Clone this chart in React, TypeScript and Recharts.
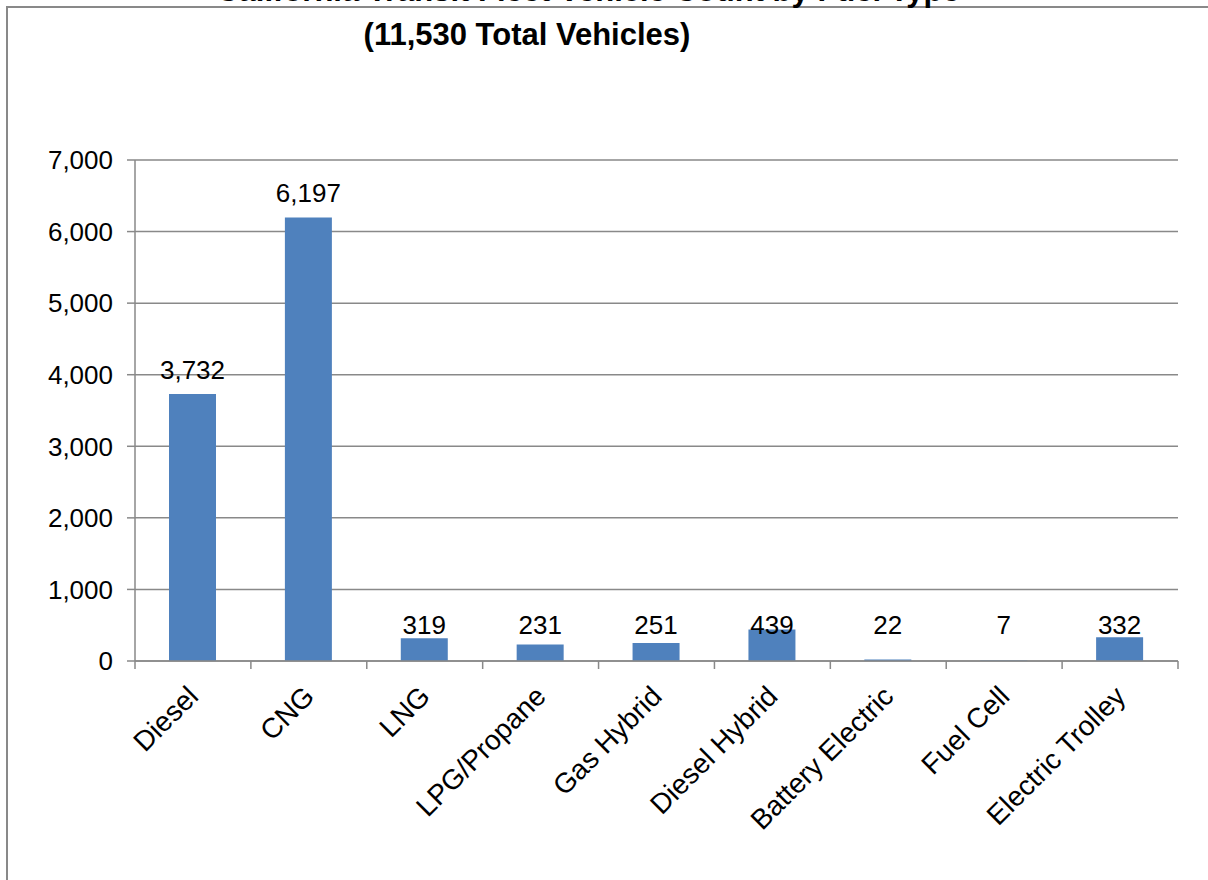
import React from "react";
import { BarChart, Bar, XAxis, YAxis, CartesianGrid, LabelList } from "recharts";

const fuelTypes = [
  "Diesel",
  "CNG",
  "LNG",
  "LPG/Propane",
  "Gas Hybrid",
  "Diesel Hybrid",
  "Battery Electric",
  "Fuel Cell",
  "Electric Trolley",
];
const vehicleCounts = [3732, 6197, 319, 231, 251, 439, 22, 7, 332];
const yTicks = [0, 1000, 2000, 3000, 4000, 5000, 6000, 7000];

const titleLine1 = "California Transit Fleet Vehicle Count by Fuel Type";
const titleLine2 = "(11,530 Total Vehicles)";

const data = fuelTypes.map((fuel, i) => ({ fuel, count: vehicleCounts[i] }));

const W = 1208;
const H = 880;
const FONT = "'Liberation Sans', Arial, sans-serif";
const GRAY = "#898989";
const BAR = "#4f81bd";

const fmt = (v: number) => v.toLocaleString("en-US");

const PLOT_LEFT = 135;
const PLOT_RIGHT = 1178;
const PLOT_TOP = 160;
const PLOT_BOTTOM = 661;
const X_AXIS_H = 180;
const BAND = (PLOT_RIGHT - PLOT_LEFT) / fuelTypes.length;

// category label rotated 45deg, plus tick marks on the category boundaries
function FuelTick(props: any) {
  const { x, y, payload, index } = props;
  const half = payload && payload.offset ? payload.offset : BAND / 2;
  const last = index === fuelTypes.length - 1;
  return (
    <g>
      <line x1={x - half} x2={x - half} y1={y} y2={y + 8} stroke={GRAY} strokeWidth={1.5} />
      {last && <line x1={x + half} x2={x + half} y1={y} y2={y + 8} stroke={GRAY} strokeWidth={1.5} />}
      <text
        x={0}
        y={0}
        transform={`translate(${x + 7},${y + 37}) rotate(-45)`}
        textAnchor="end"
        fontSize={28}
        fontFamily={FONT}
        fill="#000"
      >
        {payload.value}
      </text>
    </g>
  );
}

// value labels sit above tall bars; short bars share one row just above the axis
function CountLabel(props: any) {
  const { x, y, width, value } = props;
  const above = y - 15;
  const baseline = above < PLOT_BOTTOM - 60 ? above : PLOT_BOTTOM - 27;
  return (
    <text x={x + width / 2} y={baseline} textAnchor="middle" fontSize={26} fontFamily={FONT} fill="#000">
      {fmt(value)}
    </text>
  );
}

export default function App() {
  return (
    <div style={{ position: "fixed", left: 0, top: 0, width: W, height: H, overflow: "hidden", background: "#fff" }}>
      <div style={{ position: "absolute", left: 0, top: 0 }}>
        <BarChart
          width={W}
          height={H}
          data={data}
          margin={{ top: PLOT_TOP, right: W - PLOT_RIGHT, bottom: H - PLOT_BOTTOM - X_AXIS_H, left: 0 }}
        >
          <CartesianGrid vertical={false} stroke={GRAY} strokeWidth={1.5} />
          <XAxis
            dataKey="fuel"
            height={X_AXIS_H}
            interval={0}
            tickLine={false}
            tickSize={0}
            tickMargin={0}
            axisLine={{ stroke: GRAY, strokeWidth: 1.5 }}
            tick={<FuelTick />}
          />
          <YAxis
            width={PLOT_LEFT}
            domain={[0, 7000]}
            ticks={yTicks}
            interval={0}
            tickSize={8}
            tickMargin={14}
            tickFormatter={fmt}
            axisLine={{ stroke: GRAY, strokeWidth: 1.5 }}
            tickLine={{ stroke: GRAY, strokeWidth: 1.5 }}
            tick={{ fontSize: 26, fontFamily: FONT, fill: "#000" }}
          />
          <Bar dataKey="count" fill={BAR} barSize={47} isAnimationActive={false}>
            <LabelList dataKey="count" content={<CountLabel />} />
          </Bar>
        </BarChart>
      </div>
      {/* outer chart frame, running off the right and bottom edges */}
      <div
        style={{
          position: "absolute",
          left: 6,
          top: 6,
          width: W + 50,
          height: H + 50,
          borderLeft: `2px solid ${GRAY}`,
          borderTop: `2px solid ${GRAY}`,
          zIndex: 2,
          pointerEvents: "none",
        }}
      />
      <svg width={W} height={80} style={{ position: "absolute", left: 0, top: 0, zIndex: 3 }}>
        <text x={588} y={1} textAnchor="middle" fontSize={31} fontWeight="bold" fontFamily={FONT} fill="#000">
          {titleLine1}
        </text>
        <text x={527} y={45} textAnchor="middle" fontSize={31} fontWeight="bold" fontFamily={FONT} fill="#000">
          {titleLine2}
        </text>
      </svg>
    </div>
  );
}
